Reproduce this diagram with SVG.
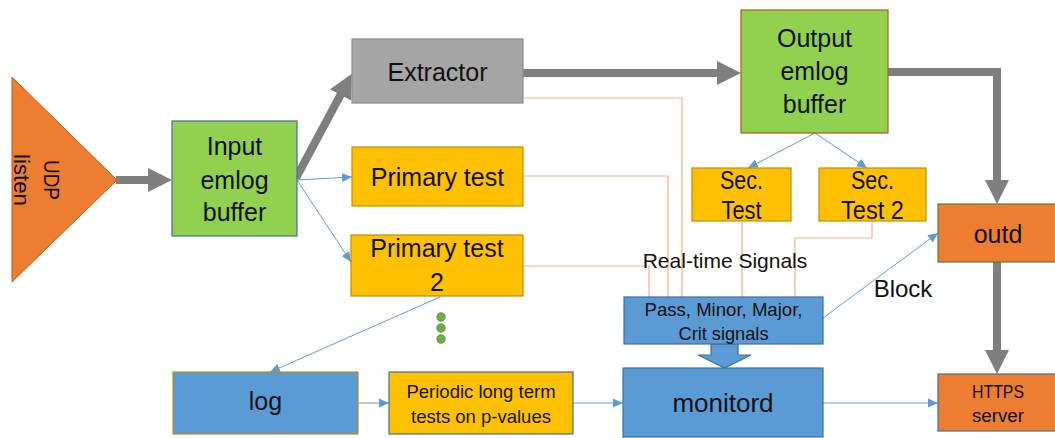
<svg xmlns="http://www.w3.org/2000/svg" width="1055" height="438" viewBox="0 0 1055 438">
<style>
text{font-family:"Liberation Sans",Arial,sans-serif;fill:#111;text-anchor:middle}
.thick{fill:none;stroke:#7F7F7F;stroke-width:8}
.thin{fill:none;stroke:#5B9BD5;stroke-width:1}
.sig{fill:none;stroke:#F4B183;stroke-width:1.2}
.green{fill:#92D050}
.gold{fill:#FFC000;stroke:#BF9000;stroke-width:1.2}
.blue{fill:#5B9BD5;stroke:#41719C;stroke-width:1.2}
.orange{fill:#ED7D31}
</style>
<defs>
<marker id="gh" markerUnits="userSpaceOnUse" markerWidth="26" markerHeight="24" viewBox="0 0 26 24" refX="1" refY="12" orient="auto">
<path d="M0,0 L24,12 L0,24 z" fill="#7F7F7F"/>
</marker>
<marker id="bh" markerUnits="userSpaceOnUse" markerWidth="11" markerHeight="10" viewBox="0 0 11 10" refX="10" refY="5" orient="auto">
<path d="M0,0.5 L10,5 L0,9.5 z" fill="#5B9BD5"/>
</marker>
</defs>

<g id="connectors">
<path class="thick" d="M116,180 H149" marker-end="url(#gh)"/>
<path class="thick" d="M296,178 L341,94" marker-end="url(#gh)"/>
<path class="thick" d="M523,73 H718" marker-end="url(#gh)"/>
<path class="thick" d="M888,72 H997 V181" marker-end="url(#gh)"/>
<path class="thick" d="M997,262 V351" marker-end="url(#gh)"/>
<path class="thin" d="M297,180 L352,177" marker-end="url(#bh)"/>
<path class="thin" d="M297,180 L351,262" marker-end="url(#bh)"/>
<path class="thin" d="M440,297 L270,372" marker-end="url(#bh)"/>
<path class="thin" d="M358,403 H389" marker-end="url(#bh)"/>
<path class="thin" d="M573,403 H623" marker-end="url(#bh)"/>
<path class="thin" d="M823,403 H938" marker-end="url(#bh)"/>
<path class="thin" d="M815,133 L748,168" marker-end="url(#bh)"/>
<path class="thin" d="M815,133 L867,168" marker-end="url(#bh)"/>
<path class="thin" d="M823,318 L938,233" marker-end="url(#bh)"/>
<path class="sig" d="M523,98 H682 V297"/>
<path class="sig" d="M523,176 H668 V297"/>
<path class="sig" d="M523,266 H649 V297"/>
<path class="sig" d="M742,221 V297"/>
<path class="sig" d="M872,221 V238 H795 V297"/>
<path d="M711,344 H738 V355 H751 L724.5,368 L698,355 H711 Z" class="blue"/>
<text x="725" y="268" font-size="21">Real-time Signals</text>
<text x="903" y="297" font-size="24">Block</text>
</g>

<g id="udp">
<polygon points="12,77 12,282 117,180" fill="#ED7D31" stroke="#C55A11" stroke-width="1"/>
<g transform="translate(37,180) rotate(90)">
<text x="0" y="-7" font-size="22" textLength="40" lengthAdjust="spacingAndGlyphs">UDP</text>
<text x="0" y="23" font-size="22" textLength="52" lengthAdjust="spacingAndGlyphs">listen</text>
</g>
</g>

<g id="input">
<rect x="172" y="121" width="125" height="115" class="green" stroke="#41719C" stroke-width="1.2"/>
<text x="234.5" y="155" font-size="25">Input</text>
<text x="234.5" y="189" font-size="25">emlog</text>
<text x="234.5" y="221" font-size="25">buffer</text>
</g>

<g id="extractor">
<rect x="352" y="39" width="171" height="64" fill="#A5A5A5" stroke="#8C8C8C" stroke-width="1.2"/>
<text x="437.5" y="81" font-size="25">Extractor</text>
</g>

<g id="primary1">
<rect x="352" y="147" width="171" height="59" class="gold"/>
<text x="437.5" y="186" font-size="25">Primary test</text>
</g>

<g id="primary2">
<rect x="351" y="235" width="172" height="61" class="gold"/>
<text x="437" y="257" font-size="25">Primary test</text>
<text x="437" y="291" font-size="25">2</text>
</g>

<g id="dots">
<circle cx="441" cy="317" r="4.2" fill="#70AD47" stroke="#507E32" stroke-width="0.8"/>
<circle cx="441" cy="328" r="4.2" fill="#70AD47" stroke="#507E32" stroke-width="0.8"/>
<circle cx="441" cy="339" r="4.2" fill="#70AD47" stroke="#507E32" stroke-width="0.8"/>
</g>

<g id="output">
<rect x="741" y="10" width="147" height="123" class="green" stroke="#AE5A21" stroke-width="1.2"/>
<text x="814.5" y="47" font-size="25">Output</text>
<text x="814.5" y="80" font-size="25">emlog</text>
<text x="814.5" y="113" font-size="25">buffer</text>
</g>

<g id="sec1">
<rect x="692" y="168" width="99" height="53" class="gold"/>
<text x="741.5" y="189" font-size="25" textLength="43" lengthAdjust="spacingAndGlyphs">Sec.</text>
<text x="741.5" y="219" font-size="25" textLength="40" lengthAdjust="spacingAndGlyphs">Test</text>
</g>

<g id="sec2">
<rect x="819" y="168" width="107" height="53" class="gold"/>
<text x="872.5" y="189" font-size="25" textLength="43" lengthAdjust="spacingAndGlyphs">Sec.</text>
<text x="872.5" y="219" font-size="25" textLength="63" lengthAdjust="spacingAndGlyphs">Test 2</text>
</g>

<g id="outd">
<rect x="938" y="204" width="120" height="58" class="orange" stroke="#548235" stroke-width="1.2"/>
<text x="998" y="243" font-size="25">outd</text>
</g>

<g id="signals">
<rect x="624" y="297" width="199" height="47" class="blue"/>
<text x="723.5" y="316" font-size="19" textLength="158" lengthAdjust="spacingAndGlyphs">Pass, Minor, Major,</text>
<text x="723.5" y="340" font-size="19" textLength="90" lengthAdjust="spacingAndGlyphs">Crit signals</text>
</g>

<g id="monitord">
<rect x="623" y="368" width="200" height="69" class="blue"/>
<text x="723" y="412" font-size="26">monitord</text>
</g>

<g id="log">
<rect x="173" y="372" width="185" height="62" fill="#5B9BD5" stroke="#BF9000" stroke-width="1.2"/>
<text x="265.5" y="410" font-size="25">log</text>
</g>

<g id="periodic">
<rect x="389" y="372" width="184" height="62" fill="#FFC000" stroke="#41719C" stroke-width="1.2"/>
<text x="481" y="398" font-size="18.5">Periodic long term</text>
<text x="481" y="423" font-size="18.5">tests on p-values</text>
</g>

<g id="https">
<rect x="938" y="374" width="120" height="57" class="orange" stroke="#41719C" stroke-width="1.2"/>
<text x="998" y="398" font-size="18" textLength="52" lengthAdjust="spacingAndGlyphs">HTTPS</text>
<text x="998" y="422" font-size="18" textLength="52" lengthAdjust="spacingAndGlyphs">server</text>
</g>
</svg>
